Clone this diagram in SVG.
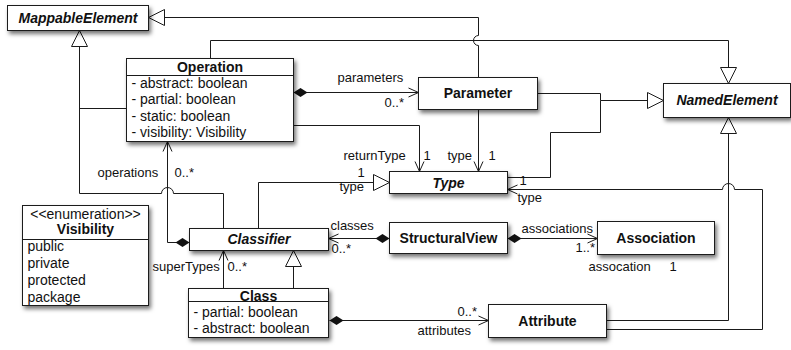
<svg xmlns="http://www.w3.org/2000/svg" width="791" height="350" viewBox="0 0 791 350">
  <style>
    text { font-family: "Liberation Sans", Arial, Helvetica, sans-serif; fill: #111; }
    .lbl { font-size: 13px; }
    .name { font-size: 14px; font-weight: bold; text-anchor: middle; }
    .abs { font-style: italic; }
    .attr { font-size: 14px; }
    .stereo { font-size: 14px; text-anchor: middle; }
    .box { fill: #fff; stroke: #1a1a1a; stroke-width: 1; filter: url(#shadow); }
    .sep { stroke: #1a1a1a; stroke-width: 1; }
    .edge { fill: none; stroke: #1a1a1a; stroke-width: 1; }
    .gen { marker-end: url(#tri); }
    .nav { marker-end: url(#open); }
    .comp { marker-start: url(#diamond); }
  </style>
  <defs>
    <filter id="shadow" x="-10%" y="-15%" width="130%" height="160%">
      <feDropShadow dx="2" dy="3" stdDeviation="2" flood-color="#000" flood-opacity="0.55"/>
    </filter>
    <!-- hollow triangle: generalization -->
    <marker id="tri" viewBox="-18 -10 20 20" markerWidth="20" markerHeight="20" refX="0" refY="0" orient="auto" markerUnits="userSpaceOnUse">
      <path d="M0,0 L-16,-8 L-16,8 Z" fill="#fff" stroke="#1a1a1a" stroke-width="1"/>
    </marker>
    <!-- open arrow: navigable end -->
    <marker id="open" viewBox="-12 -6 14 12" markerWidth="14" markerHeight="12" refX="0" refY="0" orient="auto" markerUnits="userSpaceOnUse">
      <path d="M-10,-4.5 L0,0 L-10,4.5" fill="none" stroke="#1a1a1a" stroke-width="1"/>
    </marker>
    <!-- filled diamond: composition -->
    <marker id="diamond" viewBox="-1 -6 16 12" markerWidth="16" markerHeight="12" refX="0" refY="0" orient="auto" markerUnits="userSpaceOnUse">
      <path d="M0,0 L7,-4.5 L14,0 L7,4.5 Z" fill="#111"/>
    </marker>
  </defs>

  <g transform="translate(0.5,0.5)">
    <g id="connectors">
      <!-- generalizations -->
      <path class="edge gen" d="M478,77 V45 A5,5 0 0 1 478,35 V17 H148"/>
      <path class="edge gen" d="M210,58 V40 H728 V83"/>
      <path class="edge" d="M126,108 H79"/>
      <path class="edge gen" d="M223,228 V193 H173 A6,6 0 0 0 161,193 H79 V30"/>
      <path class="edge gen" d="M507,177 H550 V132 H600 V100 H663"/>
      <path class="edge" d="M537,93 H600 V100"/>
      <path class="edge gen" d="M258,228 V182 H389"/>
      <path class="edge gen" d="M606,320 H728 V117"/>
      <path class="edge gen" d="M293,288 V250"/>
      <!-- associations -->
      <path class="edge comp nav" d="M189,242 H167 V141"/>
      <path class="edge comp nav" d="M293,92 H418"/>
      <path class="edge nav" d="M293,125 H419 V171"/>
      <path class="edge nav" d="M478,109 V171"/>
      <path class="edge nav" d="M606,329 H762 V189 H734 A6,6 0 0 0 722,189 H507"/>
      <path class="edge nav" d="M223,288 V250"/>
      <path class="edge comp nav" d="M389,238 H328"/>
      <path class="edge comp nav" d="M507,238 H597"/>
      <path class="edge comp nav" d="M329,320 H488"/>
      <!-- role names and multiplicities -->
      <text class="lbl" x="337" y="81">parameters</text>
      <text class="lbl" x="384" y="106">0..*</text>
      <text class="lbl" x="343" y="159">returnType</text>
      <text class="lbl" x="423" y="159">1</text>
      <text class="lbl" x="447" y="159">type</text>
      <text class="lbl" x="488" y="159">1</text>
      <text class="lbl" x="357" y="176">1</text>
      <text class="lbl" x="339" y="190">type</text>
      <text class="lbl" x="519" y="184">1</text>
      <text class="lbl" x="517" y="201">type</text>
      <text class="lbl" x="97" y="176.5">operations</text>
      <text class="lbl" x="174" y="176.5">0..*</text>
      <text class="lbl" x="330" y="229">classes</text>
      <text class="lbl" x="331" y="252.5">0..*</text>
      <text class="lbl" x="521" y="232">associations</text>
      <text class="lbl" x="575" y="251.5">1..*</text>
      <text class="lbl" x="588" y="270">assocation</text>
      <text class="lbl" x="669" y="270">1</text>
      <text class="lbl" x="152" y="270">superTypes</text>
      <text class="lbl" x="227" y="270">0..*</text>
      <text class="lbl" x="457" y="315">0..*</text>
      <text class="lbl" x="417" y="334">attributes</text>
    </g>

    <g id="MappableElement">
      <rect class="box" x="7" y="5" width="141" height="25"/>
      <text class="name abs" x="77.5" y="22.5">MappableElement</text>
    </g>

    <g id="Operation">
      <rect class="box" x="126" y="58" width="167" height="83"/>
      <line class="sep" x1="126" y1="75" x2="293" y2="75"/>
      <text class="name" x="209.5" y="71.5">Operation</text>
      <text class="attr" x="131" y="87">- abstract: boolean</text>
      <text class="attr" x="131" y="103.5">- partial: boolean</text>
      <text class="attr" x="131" y="120">- static: boolean</text>
      <text class="attr" x="131" y="136">- visibility: Visibility</text>
    </g>

    <g id="Parameter">
      <rect class="box" x="418" y="77" width="119" height="32"/>
      <text class="name" x="477.5" y="97.5">Parameter</text>
    </g>

    <g id="NamedElement">
      <rect class="box" x="663" y="83" width="127" height="34"/>
      <text class="name abs" x="726.5" y="104.5">NamedElement</text>
    </g>

    <g id="Type">
      <rect class="box" x="389" y="171" width="118" height="22"/>
      <text class="name abs" x="448" y="187">Type</text>
    </g>

    <g id="Classifier">
      <rect class="box" x="189" y="228" width="139" height="22"/>
      <text class="name abs" x="258.5" y="243">Classifier</text>
    </g>

    <g id="StructuralView">
      <rect class="box" x="389" y="222" width="118" height="31"/>
      <text class="name" x="448" y="242">StructuralView</text>
    </g>

    <g id="Association">
      <rect class="box" x="597" y="221" width="117" height="33"/>
      <text class="name" x="655.5" y="242">Association</text>
    </g>

    <g id="Attribute">
      <rect class="box" x="488" y="304" width="118" height="33"/>
      <text class="name" x="547" y="325">Attribute</text>
    </g>

    <g id="Class">
      <rect class="box" x="188" y="288" width="140" height="49"/>
      <line class="sep" x1="188" y1="301" x2="328" y2="301"/>
      <text class="name" x="258" y="300">Class</text>
      <text class="attr" x="193" y="316.5">- partial: boolean</text>
      <text class="attr" x="193" y="332">- abstract: boolean</text>
    </g>

    <g id="Visibility">
      <rect class="box" x="22" y="205" width="126" height="100"/>
      <text class="stereo" x="85" y="218">&lt;&lt;enumeration&gt;&gt;</text>
      <text class="name" x="85" y="233.5">Visibility</text>
      <line class="sep" x1="22" y1="239" x2="148" y2="239"/>
      <text class="attr" x="27" y="250">public</text>
      <text class="attr" x="27" y="267">private</text>
      <text class="attr" x="27" y="284">protected</text>
      <text class="attr" x="27" y="301">package</text>
    </g>
  </g>
</svg>
